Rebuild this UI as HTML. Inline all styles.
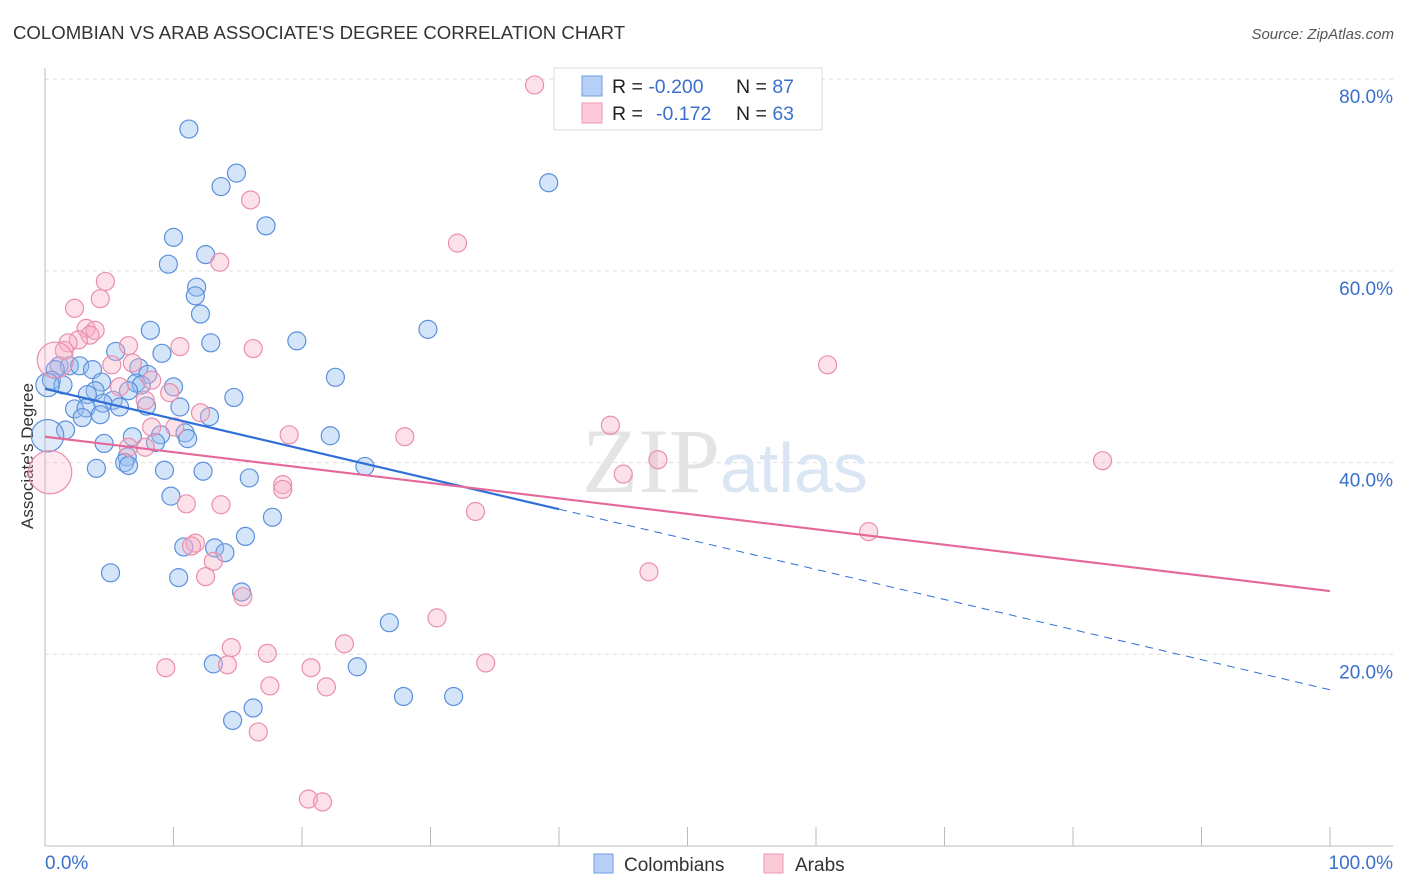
<!DOCTYPE html>
<html><head><meta charset="utf-8"><style>
body{margin:0;background:#fff;font-family:"Liberation Sans",sans-serif}
svg{display:block}
</style></head><body>
<svg id="c" width="1406" height="892">
<text x="13" y="39" font-size="18.6" fill="#333">COLOMBIAN VS ARAB ASSOCIATE'S DEGREE CORRELATION CHART</text>
<text x="1394" y="39" font-size="15" fill="#555" font-style="italic" text-anchor="end">Source: ZipAtlas.com</text>
<text x="33" y="456" font-size="17" fill="#333" text-anchor="middle" transform="rotate(-90 33 456)">Associate's Degree</text>
<g id="grid"></g>
<text x="720" y="492" font-size="92" fill="#e4e4e4" text-anchor="end" font-family="Liberation Serif,serif">ZIP</text>
<text x="720" y="492" font-size="70" fill="#dbe6f5">atlas</text>
<g id="pts"></g>
<g id="lines"></g>
<g>
<rect x="554" y="68" width="268" height="62" fill="#fff" stroke="#ddd"/>
<rect x="582" y="76" width="20" height="20" fill="#b6d0f5" stroke="#6f9ee0"/>
<rect x="582" y="103" width="20" height="20" fill="#fcc9d8" stroke="#ec9ab3"/>
<text x="612" y="93" font-size="19.5" fill="#222">R = <tspan fill="#3a70cc">-0.200</tspan><tspan x="736">N = </tspan><tspan fill="#3a70cc">87</tspan></text>
<text x="612" y="120" font-size="19.5" fill="#222">R = <tspan x="656" fill="#3a70cc">-0.172</tspan><tspan x="736">N = </tspan><tspan fill="#3a70cc">63</tspan></text>
</g>
<g>
<rect x="594" y="854" width="19" height="19" fill="#b6d0f5" stroke="#6f9ee0"/>
<text x="624" y="871" font-size="19" fill="#333">Colombians</text>
<rect x="764" y="854" width="19" height="19" fill="#fcc9d8" stroke="#ec9ab3"/>
<text x="795" y="871" font-size="19" fill="#333">Arabs</text>
</g>
</svg>
<script>
const yTicks=[20,40,60,80];
const yTickLabels=["20.0%","40.0%","60.0%","80.0%"];
const xTickLabels=["0.0%","100.0%"];
const blueX=[11.2,14.9,13.7,17.2,10.0,12.5,9.6,11.8,11.7,12.1,8.2,12.9,19.6,5.5,9.1,1.1,1.9,0.8,2.7,3.7,7.3,8.0,22.6,0.5,1.4,4.4,7.1,10.0,3.9,7.5,6.5,14.7,3.3,5.3,4.5,5.8,7.9,10.5,2.3,3.2,4.3,12.8,2.9,1.6,6.8,10.9,9.0,22.2,4.6,8.6,11.1,6.4,6.2,6.5,4.0,9.3,12.3,24.9,15.9,9.8,17.7,15.6,10.8,13.2,14.0,5.1,10.4,15.3,26.8,13.1,24.3,27.9,31.8,16.2,14.6,29.8,39.2,0.2,0.2];
const blueY=[74.8,70.2,68.8,64.7,63.5,61.7,60.7,58.3,57.4,55.5,53.8,52.5,52.7,51.6,51.4,50.1,50.1,49.7,50.1,49.7,49.9,49.2,48.9,48.6,48.1,48.4,48.3,47.9,47.5,48.1,47.5,46.8,47.1,46.5,46.2,45.8,45.9,45.8,45.6,45.7,45.0,44.8,44.7,43.4,42.7,43.1,42.9,42.8,42.0,42.1,42.5,40.6,40.0,39.7,39.4,39.2,39.1,39.6,38.4,36.5,34.3,32.3,31.2,31.1,30.6,28.5,28.0,26.5,23.3,19.0,18.7,15.6,15.6,14.4,13.1,53.9,69.2,42.8,48.1];
const blueSize=[1,1,1,1,1,1,1,1,1,1,1,1,1,1,1,1,1,1,1,1,1,1,1,1,1,1,1,1,1,1,1,1,1,1,1,1,1,1,1,1,1,1,1,1,1,1,1,1,1,1,1,1,1,1,1,1,1,1,1,1,1,1,1,1,1,1,1,1,1,1,1,1,1,1,1,1,1,1.8,1.3];
const pinkX=[38.1,16.0,32.1,13.6,4.7,4.3,2.3,3.2,3.9,3.5,2.6,1.8,1.5,10.5,6.5,16.2,5.2,6.8,8.3,60.9,9.7,5.8,7.8,12.1,8.3,10.1,6.5,7.8,28.0,19.0,44.0,47.7,82.3,45.0,18.5,18.5,33.5,11.0,13.7,64.1,11.7,11.4,13.1,12.5,47.0,15.4,30.5,14.5,23.3,17.3,9.4,14.2,20.7,34.3,17.5,21.9,16.6,20.5,21.6,0.4,0.8];
const pinkY=[79.4,67.4,62.9,60.9,58.9,57.1,56.1,54.0,53.8,53.3,52.8,52.5,51.7,52.1,52.2,51.9,50.2,50.4,48.6,50.2,47.3,47.9,46.5,45.2,43.7,43.7,41.6,41.6,42.7,42.9,43.9,40.3,40.2,38.8,37.7,37.2,34.9,35.7,35.6,32.8,31.6,31.3,29.7,28.1,28.6,26.0,23.8,20.7,21.1,20.1,18.6,18.9,18.6,19.1,16.7,16.6,11.9,4.9,4.6,39.0,50.7];
const pinkSize=[1,1,1,1,1,1,1,1,1,1,1,1,1,1,1,1,1,1,1,1,1,1,1,1,1,1,1,1,1,1,1,1,1,1,1,1,1,1,1,1,1,1,1,1,1,1,1,1,1,1,1,1,1,1,1,1,1,1,1,2.4,2.0];
const blueTrend=[47.7,16.3], blueSolidEnd=40;
const pinkTrend=[42.7,26.6];
const NS="http://www.w3.org/2000/svg";
const X=v=>45+v*12.85, Y=v=>846-v*9.585;
function mk(t,a,p){const e=document.createElementNS(NS,t);for(const k in a)e.setAttribute(k,a[k]);p.appendChild(e);return e;}
const g=document.getElementById('grid');
yTicks.forEach((t,i)=>{
 const l=mk('line',{x1:45,x2:1393,y1:Y(t),y2:Y(t),stroke:'#ddd','stroke-dasharray':'4,4'},g);
 
 
 const tx=mk('text',{x:1393,y:Y(t)+24,'font-size':19,fill:'#3a70cc','text-anchor':'end'},g);tx.textContent=yTickLabels[i];
 
 
});
const ax=mk('line',{x1:45,x2:45,y1:68,y2:846,stroke:'#bbb'},g);


const bx=mk('line',{x1:45,x2:1393,y1:846,y2:846,stroke:'#bbb'},g);


for(let i=0;i<=10;i++){const t=mk('line',{x1:X(i*10),x2:X(i*10),y1:827,y2:846,stroke:'#bbb'},g);
 
 }
[[0,'start',45],[100,'end',1393]].forEach((d,i)=>{const t=mk('text',{x:d[2],y:869,'font-size':19,fill:'#3a70cc','text-anchor':d[1]},g);t.textContent=xTickLabels[i];
 
 });
const p=document.getElementById('pts');
blueX.forEach((x,i)=>{const c=mk('circle',{cx:X(x),cy:Y(blueY[i]),r:9*blueSize[i],fill:blueSize[i]>1?'rgba(150,190,240,0.3)':'rgba(150,190,240,0.4)',stroke:'#5b90dc','stroke-width':1.2},p);
 
 });
pinkX.forEach((x,i)=>{const c=mk('circle',{cx:X(x),cy:Y(pinkY[i]),r:9*pinkSize[i],fill:pinkSize[i]>1?'rgba(248,175,198,0.28)':'rgba(248,175,198,0.38)',stroke:'#eb8eae','stroke-width':1.2},p);
 
 });
const L=document.getElementById('lines');
const by=x=>blueTrend[0]+(blueTrend[1]-blueTrend[0])*x/100;
const l1=mk('line',{x1:X(0),y1:Y(by(0)),x2:X(blueSolidEnd),y2:Y(by(blueSolidEnd)),stroke:'#2f6fd6','stroke-width':2.2},L);


const l2=mk('line',{x1:X(blueSolidEnd),y1:Y(by(blueSolidEnd)),x2:X(100),y2:Y(by(100)),stroke:'#2f6fd6','stroke-width':1,'stroke-dasharray':'8,6'},L);


const l3=mk('line',{x1:X(0),y1:Y(pinkTrend[0]),x2:X(100),y2:Y(pinkTrend[1]),stroke:'#e5689a','stroke-width':2.2},L);


</script>
</body></html>
